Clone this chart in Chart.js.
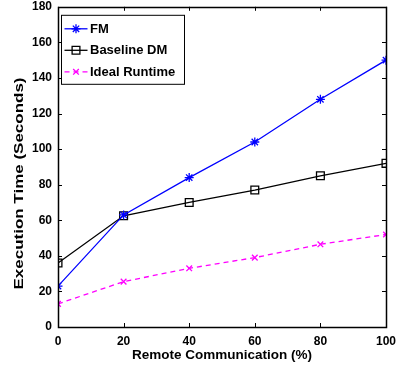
<!DOCTYPE html>
<html>
<head>
<meta charset="utf-8">
<script src="https://cdn.jsdelivr.net/npm/chart.js@4.4.0/dist/chart.umd.min.js"></script>
<style>
  html, body { margin: 0; padding: 0; background: #fff; }
  #wrap { width: 398px; height: 365px; }
</style>
</head>
<body>
<div id="wrap"><canvas id="execChart"></canvas></div>
<script>
const remoteComm = [0, 20, 40, 60, 80, 100];
const fmTime = [23, 63, 84, 104, 128, 150];
const baselineTime = [36, 62.5, 70, 77, 85, 92];
const idealTime = [13, 25.5, 33, 39, 46.5, 52];
const yTicks = [0, 20, 40, 60, 80, 100, 120, 140, 160, 180];
const yTitle = 'Execution Time (Seconds)';

const toPoints = (vals) => vals.map((v, i) => ({ x: remoteComm[i], y: v }));
const fam = 'Liberation Sans, Arial, sans-serif';
const font = { family: fam, size: 12, weight: 'bold' };

// MATLAB-style box with inward ticks, legend and stretched y title
const boxPlugin = {
    id: 'boxTicks',
    afterDatasetsDraw(chart) {
        const { ctx, chartArea: a, scales } = chart;
        const len = 4;
        ctx.save();
        ctx.strokeStyle = '#000';
        ctx.lineWidth = 1;
        ctx.beginPath();
        remoteComm.forEach(v => {
            const x = Math.round(scales.x.getPixelForValue(v)) + 0.5;
            ctx.moveTo(x, a.bottom); ctx.lineTo(x, a.bottom - len);
            ctx.moveTo(x, a.top); ctx.lineTo(x, a.top + len);
        });
        yTicks.forEach(v => {
            const y = Math.round(scales.y.getPixelForValue(v)) + 0.5;
            ctx.moveTo(a.left, y); ctx.lineTo(a.left + len, y);
            ctx.moveTo(a.right, y); ctx.lineTo(a.right - len, y);
        });
        ctx.stroke();
        ctx.lineWidth = 1.5;
        ctx.strokeRect(Math.round(a.left) + 0.5, Math.round(a.top) + 0.5,
            Math.round(a.right - a.left), Math.round(a.bottom - a.top));
        ctx.restore();
    },
    afterDraw(chart) {
        const { ctx, chartArea: a } = chart;
        const bx = a.left + 3.5, by = a.top + 8.5, bw = 123, bh = 69;
        ctx.save();
        ctx.fillStyle = '#fff';
        ctx.fillRect(bx, by, bw, bh);
        ctx.strokeStyle = '#000';
        ctx.lineWidth = 1;
        ctx.strokeRect(bx, by, bw, bh);
        ctx.font = 'bold 13px ' + fam;
        ctx.textBaseline = 'middle';
        chart.data.datasets.forEach((ds, i) => {
            const y = by + 13.5 + i * 21.5;
            ctx.strokeStyle = ds.borderColor;
            ctx.lineWidth = ds.borderWidth;
            ctx.setLineDash(ds.borderDash || []);
            ctx.beginPath();
            ctx.moveTo(bx + 3, y); ctx.lineTo(bx + 26, y);
            ctx.stroke();
            ctx.setLineDash([]);
            ctx.fillStyle = ds.pointBackgroundColor;
            Chart.helpers.drawPoint(ctx, {
                pointStyle: ds.pointStyle, radius: ds.pointRadius,
                borderWidth: ds.pointBorderWidth, rotation: 0
            }, bx + 14.5, y);
            ctx.fillStyle = '#000';
            ctx.fillText(ds.label, bx + 28.5, y + 0.5);
        });
        ctx.restore();

        // y axis title (reference text is stretched along the axis)
        ctx.save();
        ctx.translate(20, 183.5);
        ctx.rotate(-Math.PI / 2);
        ctx.font = 'bold 12px ' + fam;
        const w = ctx.measureText(yTitle).width;
        ctx.scale(212 / w, 1);
        ctx.fillStyle = '#000';
        ctx.textAlign = 'center';
        ctx.textBaseline = 'middle';
        ctx.fillText(yTitle, 0, 0);
        ctx.restore();
    }
};

const chart = new Chart(document.getElementById('execChart').getContext('2d'), {
    type: 'line',
    data: {
        datasets: [
            {
                label: 'FM',
                data: toPoints(fmTime),
                borderColor: '#0000ff',
                backgroundColor: '#0000ff',
                borderWidth: 1.3,
                pointStyle: 'star',
                pointRadius: 4.5,
                pointBorderWidth: 1.3,
                pointBorderColor: '#0000ff',
                pointBackgroundColor: 'rgba(0,0,0,0)'
            },
            {
                label: 'Baseline DM',
                data: toPoints(baselineTime),
                borderColor: '#000000',
                backgroundColor: 'rgba(0,0,0,0)',
                borderWidth: 1.3,
                pointStyle: 'rect',
                pointRadius: 5.5,
                pointBorderWidth: 1.3,
                pointBorderColor: '#000000',
                pointBackgroundColor: 'rgba(0,0,0,0)'
            },
            {
                label: 'Ideal Runtime',
                data: toPoints(idealTime),
                borderColor: '#ff00ff',
                backgroundColor: '#ff00ff',
                borderWidth: 1.3,
                borderDash: [5, 4],
                pointStyle: 'crossRot',
                pointRadius: 4,
                pointBorderWidth: 1.3,
                pointBorderColor: '#ff00ff',
                pointBackgroundColor: 'rgba(0,0,0,0)'
            }
        ]
    },
    options: {
        responsive: true,
        maintainAspectRatio: false,
        animation: false,
        layout: { padding: { top: 6, right: 12, left: 0, bottom: 0 } },
        plugins: {
            legend: { display: false },
            tooltip: { enabled: false }
        },
        scales: {
            x: {
                type: 'linear',
                min: 0,
                max: 100,
                grid: { display: false, drawTicks: false },
                border: { display: false },
                ticks: { stepSize: 20, color: '#000', font: font, padding: 7 },
                title: {
                    display: true,
                    text: 'Remote Communication (%)',
                    color: '#000',
                    font: { family: fam, size: 13.5, weight: 'bold' },
                    padding: { top: 0, bottom: 2 }
                },
                afterFit(scale) {
                    scale.height = 38;
                    scale.paddingLeft = 0;
                    scale.paddingRight = 0;
                }
            },
            y: {
                min: 0,
                max: 180,
                grid: { display: false, drawTicks: false },
                border: { display: false },
                ticks: { stepSize: 20, color: '#000', font: font, padding: 6 },
                title: { display: false },
                afterFit(scale) {
                    scale.width = 58;
                    scale.paddingTop = 0;
                    scale.paddingBottom = 0;
                }
            }
        }
    },
    plugins: [boxPlugin]
});
</script>
</body>
</html>
